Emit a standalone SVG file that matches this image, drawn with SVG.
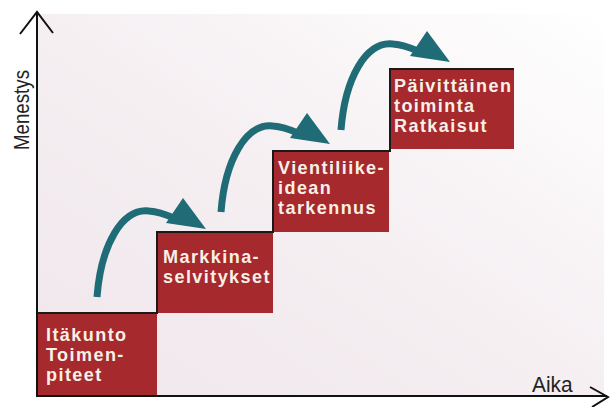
<svg xmlns="http://www.w3.org/2000/svg" xmlns:xlink="http://www.w3.org/1999/xlink" width="610" height="407" viewBox="0 0 610 407">
<defs>
<linearGradient id="bg" x1="1" y1="0" x2="0" y2="1">
<stop offset="0" stop-color="#ffffff"/>
<stop offset="0.5" stop-color="#f5eff2"/>
<stop offset="1" stop-color="#efe6eb"/>
</linearGradient>
<g id="curve">
<path d="M0,0 C4,-52 25,-89 52,-86 C64,-85 72,-81 79,-78" fill="none" stroke="#1f6c77" stroke-width="7"/>
<polygon points="86,-99 109,-68 69,-74" fill="#1f6c77"/>
</g>
</defs>
<style>
.box{fill:#a5292d}
.lbl{font-family:"Liberation Sans",Arial,sans-serif;font-weight:bold;font-size:19px;letter-spacing:1.5px;fill:#f7f0e6}
.axis{fill:none;stroke:#111;stroke-width:2}
.ax{font-family:"Liberation Sans",Arial,sans-serif;font-size:22px;fill:#222}
</style>
<rect width="610" height="407" fill="#ffffff"/>
<rect x="38" y="14" width="566" height="381" fill="url(#bg)"/>

<g id="axes">
<path class="axis" d="M37,396 V12 M20,34 L37,12 L53,33"/>
<path class="axis" d="M36,396 H607 M590,387 L608,397 L592,407"/>
<text class="ax" transform="translate(29,110) rotate(-90) scale(0.85,1)" text-anchor="middle">Menestys</text>
<text class="ax" transform="translate(532,392) scale(0.95,1)">Aika</text>
</g>

<g id="node1">
<rect class="box" x="38" y="313" width="119" height="82"/>
<text class="lbl" transform="translate(46,341) scale(0.95,1)">Itäkunto</text>
<text class="lbl" transform="translate(46,361) scale(0.95,1)">Toimen-</text>
<text class="lbl" transform="translate(46,381) scale(0.95,1)">piteet</text>
</g>
<g id="node2">
<rect class="box" x="157" y="232" width="116" height="81"/>
<text class="lbl" transform="translate(163,263) scale(0.95,1)">Markkina-</text>
<text class="lbl" transform="translate(163,283) scale(0.95,1)">selvitykset</text>
</g>
<g id="node3">
<rect class="box" x="273" y="151" width="116" height="81"/>
<text class="lbl" transform="translate(278,174) scale(0.95,1)">Vientiliike-</text>
<text class="lbl" transform="translate(278,194) scale(0.95,1)">idean</text>
<text class="lbl" transform="translate(278,214) scale(0.95,1)">tarkennus</text>
</g>
<g id="node4">
<rect class="box" x="390" y="69" width="124" height="80"/>
<text class="lbl" transform="translate(394,92) scale(0.95,1)">Päivittäinen</text>
<text class="lbl" transform="translate(394,112) scale(0.95,1)">toiminta</text>
<text class="lbl" transform="translate(394,132) scale(0.95,1)">Ratkaisut</text>
</g>

<g id="connectors">
<path d="M37,313 H157 V232 H273 V151 H390 V69 H514" fill="none" stroke="#1a1a1a" stroke-width="2"/>
<use xlink:href="#curve" transform="translate(97,297)"/>
<use xlink:href="#curve" transform="translate(221,212)"/>
<use xlink:href="#curve" transform="translate(341,130)"/>
</g>
</svg>
